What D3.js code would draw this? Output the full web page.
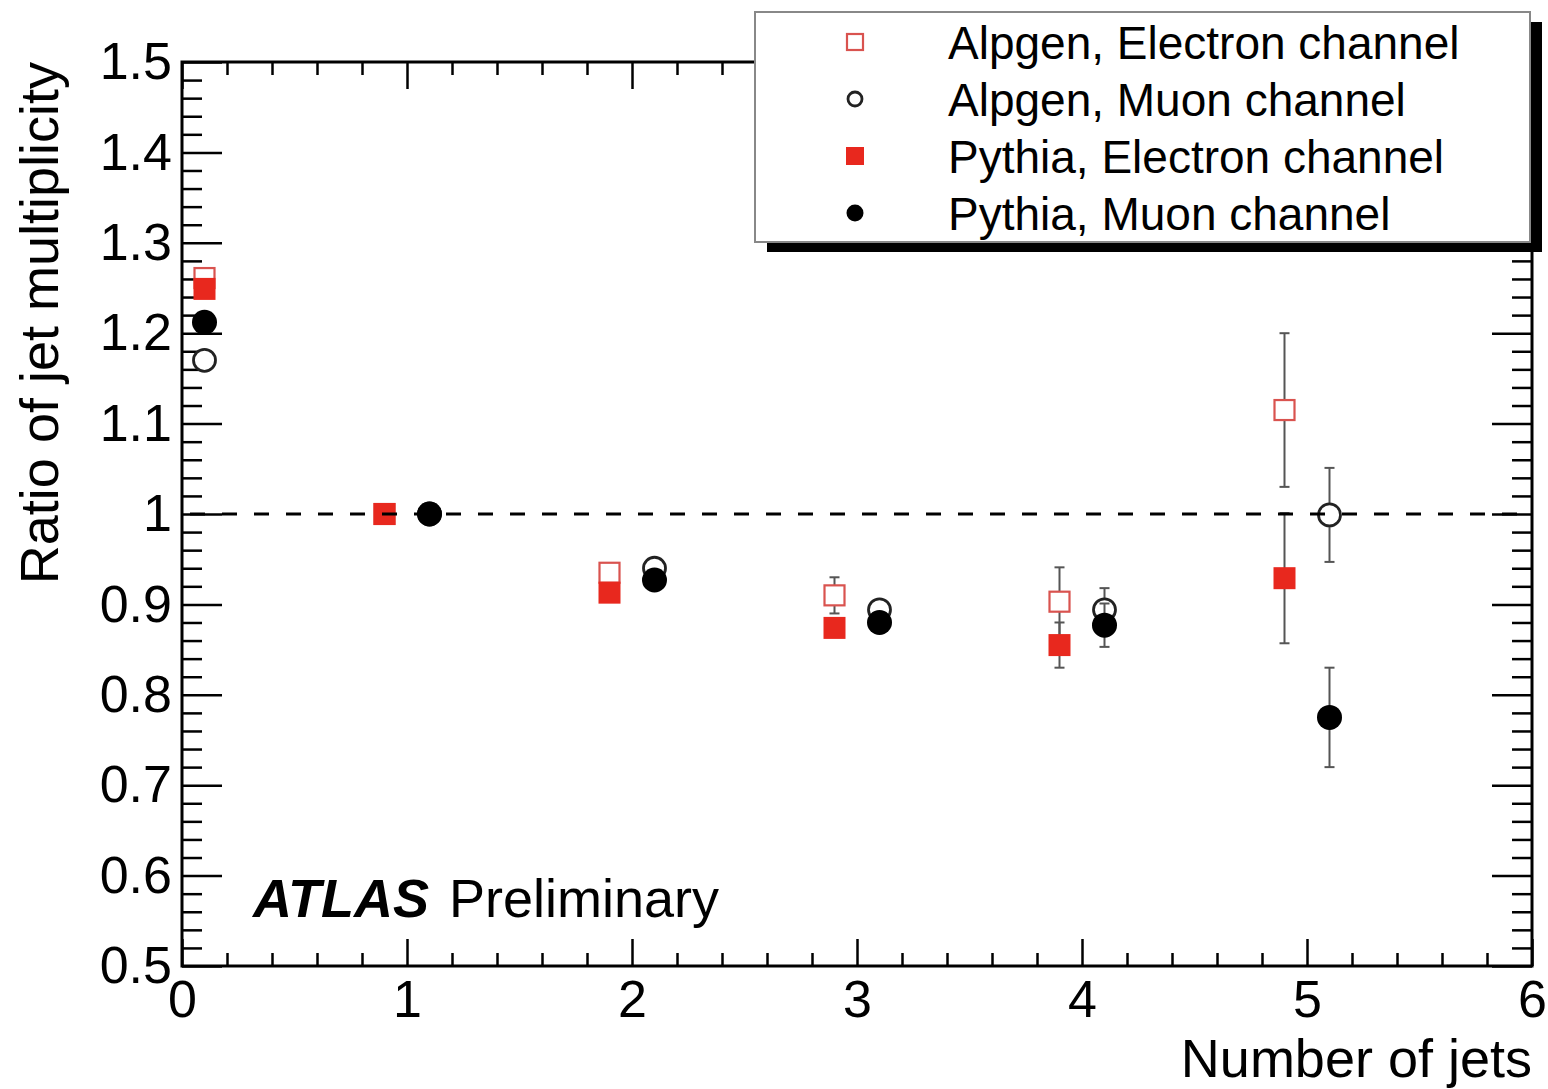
<!DOCTYPE html>
<html>
<head>
<meta charset="utf-8">
<script src="https://cdn.jsdelivr.net/npm/d3@7"></script>
<style>
  html, body { margin: 0; padding: 0; background: #fff; }
  svg { display: block; font-family: "Liberation Sans", Arial, Helvetica, sans-serif; }
</style>
</head>
<body>
<svg id="chart" width="1548" height="1089"></svg>
<script>
// ---- data ----
const jets = [0, 1, 2, 3, 4, 5];
const xElectron = [0.1, 0.9, 1.9, 2.9, 3.9, 4.9];
const xMuon = [0.1, 1.1, 2.1, 3.1, 4.1, 5.1];

const alpgenElectron = [1.261, 1.0, 0.935, 0.910, 0.903, 1.115];
const alpgenElectronErr = [0.004, 0.0, 0.006, 0.020, 0.038, 0.085];
const alpgenMuon = [1.170, 1.0, 0.940, 0.894, 0.894, 0.999];
const alpgenMuonErr = [0.004, 0.0, 0.006, 0.010, 0.024, 0.052];
const pythiaElectron = [1.249, 1.0, 0.913, 0.874, 0.855, 0.929];
const pythiaElectronErr = [0.004, 0.0, 0.006, 0.010, 0.025, 0.072];
const pythiaMuon = [1.212, 1.0, 0.927, 0.880, 0.877, 0.775];
const pythiaMuonErr = [0.004, 0.0, 0.006, 0.008, 0.024, 0.055];

const seriesNames = ["Alpgen, Electron channel", "Alpgen, Muon channel", "Pythia, Electron channel", "Pythia, Muon channel"];
const xTickLabels = ["0", "1", "2", "3", "4", "5", "6"];
const yTickLabels = ["0.5", "0.6", "0.7", "0.8", "0.9", "1", "1.1", "1.2", "1.3", "1.4", "1.5"];
const xTitle = "Number of jets";
const yTitle = "Ratio of jet multiplicity";
const referenceLine = 1.0;

// ---- layout ----
const L = 182, R = 1532, T = 62, B = 966;
const svg = d3.select("#chart");
const x = d3.scaleLinear().domain([0, 6]).range([L, R]);
const y = d3.scaleLinear().domain([0.5, 1.5]).range([B, T]);

const RED = "#e8281e";
const OPEN_RED = "#d9534f";
const FONT = 52;

const xMajor = d3.range(0, 6.0001, 1);
const xMinor = d3.range(0, 6.0001, 0.2).filter(v => Math.abs(v - Math.round(v)) > 1e-6);
const yMajor = d3.range(0.5, 1.5001, 0.1).map(v => +v.toFixed(2));
const yMinor = d3.range(0.5, 1.5001, 0.02).map(v => +v.toFixed(3)).filter(v => Math.abs(v * 10 - Math.round(v * 10)) > 1e-6);

function styleAxis(g) {
  g.select(".domain").remove();
  g.selectAll(".tick line").attr("stroke", "#000").attr("stroke-width", 2.5);
  g.selectAll(".tick text").attr("fill", "#000").attr("font-size", FONT)
    .attr("font-family", "'Liberation Sans', Arial, Helvetica, sans-serif");
}

// bottom axis
svg.append("g").attr("transform", `translate(0,${B})`)
  .call(d3.axisBottom(x).tickValues(xMajor).tickSize(-27).tickPadding(14).tickFormat((d, i) => xTickLabels[i]))
  .call(styleAxis);
svg.append("g").attr("transform", `translate(0,${B})`)
  .call(d3.axisBottom(x).tickValues(xMinor).tickSize(-13).tickFormat(""))
  .call(styleAxis);
// top axis
svg.append("g").attr("transform", `translate(0,${T})`)
  .call(d3.axisTop(x).tickValues(xMajor).tickSize(-27).tickFormat(""))
  .call(styleAxis);
svg.append("g").attr("transform", `translate(0,${T})`)
  .call(d3.axisTop(x).tickValues(xMinor).tickSize(-13).tickFormat(""))
  .call(styleAxis);
// left axis
svg.append("g").attr("transform", `translate(${L},0)`)
  .call(d3.axisLeft(y).tickValues(yMajor).tickSize(-40).tickPadding(10).tickFormat((d, i) => yTickLabels[i]))
  .call(styleAxis);
svg.append("g").attr("transform", `translate(${L},0)`)
  .call(d3.axisLeft(y).tickValues(yMinor).tickSize(-20).tickFormat(""))
  .call(styleAxis);
// right axis
svg.append("g").attr("transform", `translate(${R},0)`)
  .call(d3.axisRight(y).tickValues(yMajor).tickSize(-40).tickFormat(""))
  .call(styleAxis);
svg.append("g").attr("transform", `translate(${R},0)`)
  .call(d3.axisRight(y).tickValues(yMinor).tickSize(-20).tickFormat(""))
  .call(styleAxis);

// frame
svg.append("rect").attr("x", L).attr("y", T).attr("width", R - L).attr("height", B - T)
  .attr("fill", "none").attr("stroke", "#000").attr("stroke-width", 3);

// axis titles
svg.append("text").attr("x", R).attr("y", 1077).attr("text-anchor", "end")
  .attr("font-size", 54).attr("fill", "#000").text(xTitle);
svg.append("text").attr("transform", `translate(58,${T}) rotate(-90)`).attr("text-anchor", "end")
  .attr("font-size", 54).attr("fill", "#000").text(yTitle);

// series definitions
const series = [
  { name: seriesNames[0], xs: xElectron, ys: alpgenElectron, es: alpgenElectronErr, shape: "square", filled: false },
  { name: seriesNames[1], xs: xMuon, ys: alpgenMuon, es: alpgenMuonErr, shape: "circle", filled: false },
  { name: seriesNames[2], xs: xElectron, ys: pythiaElectron, es: pythiaElectronErr, shape: "square", filled: true },
  { name: seriesNames[3], xs: xMuon, ys: pythiaMuon, es: pythiaMuonErr, shape: "circle", filled: true }
];

function drawMarker(g, s, cx, cy, size) {
  if (s.shape === "square") {
    const h = size / 2;
    if (s.filled) {
      g.append("rect").attr("x", cx - h).attr("y", cy - h).attr("width", size).attr("height", size).attr("fill", RED);
    } else {
      g.append("rect").attr("x", cx - h + 1).attr("y", cy - h + 1).attr("width", size - 2).attr("height", size - 2)
        .attr("fill", "#fff").attr("stroke", OPEN_RED).attr("stroke-width", 2.2);
    }
  } else {
    if (s.filled) {
      g.append("circle").attr("cx", cx).attr("cy", cy).attr("r", size / 2).attr("fill", "#000");
    } else {
      g.append("circle").attr("cx", cx).attr("cy", cy).attr("r", size / 2 - 1.5)
        .attr("fill", "#fff").attr("stroke", "#222").attr("stroke-width", 2.8);
    }
  }
}

const plot = svg.append("g");
series.forEach(s => {
  const g = plot.append("g");
  jets.forEach((j, i) => {
    const cx = x(s.xs[i]), cy = y(s.ys[i]), e = s.es[i];
    if (e > 0.005) {
      const y1 = y(s.ys[i] + e), y2 = y(s.ys[i] - e);
      g.append("line").attr("x1", cx).attr("x2", cx).attr("y1", y1).attr("y2", y2)
        .attr("stroke", "#555").attr("stroke-width", 2);
      [y1, y2].forEach(yy => g.append("line").attr("x1", cx - 5).attr("x2", cx + 5).attr("y1", yy).attr("y2", yy)
        .attr("stroke", "#555").attr("stroke-width", 2));
    }
  });
  jets.forEach((j, i) => {
    drawMarker(g, s, x(s.xs[i]), y(s.ys[i]), s.shape === "square" ? 22 : 25);
  });
});

// dashed reference line
svg.append("line").attr("x1", x(0)).attr("x2", x(6) - 10).attr("y1", y(referenceLine)).attr("y2", y(referenceLine))
  .attr("stroke", "#000").attr("stroke-width", 3).attr("stroke-dasharray", "15 17").attr("stroke-dashoffset", 24);

// ATLAS label
const atl = svg.append("text").attr("x", 253).attr("y", 917).attr("font-size", 54).attr("fill", "#000");
atl.append("tspan").attr("font-weight", "bold").attr("font-style", "italic").text("ATLAS");
atl.append("tspan").attr("dx", 20).text("Preliminary");

// legend
const lg = { x: 755, y: 12, w: 775, h: 230 };
svg.append("rect").attr("x", lg.x + 12).attr("y", lg.y + 10).attr("width", lg.w).attr("height", lg.h).attr("fill", "#000");
svg.append("rect").attr("x", lg.x).attr("y", lg.y).attr("width", lg.w).attr("height", lg.h)
  .attr("fill", "#fff").attr("stroke", "#888").attr("stroke-width", 2);
const rowY = [42, 99, 156, 213];
series.forEach((s, i) => {
  const g = svg.append("g");
  drawMarker(g, s, 855, rowY[i], s.shape === "square" ? 18 : 17);
  g.append("text").attr("x", 948).attr("y", rowY[i]).attr("dy", "0.36em")
    .attr("font-size", 46).attr("fill", "#000").text(s.name);
});
</script>
</body>
</html>
